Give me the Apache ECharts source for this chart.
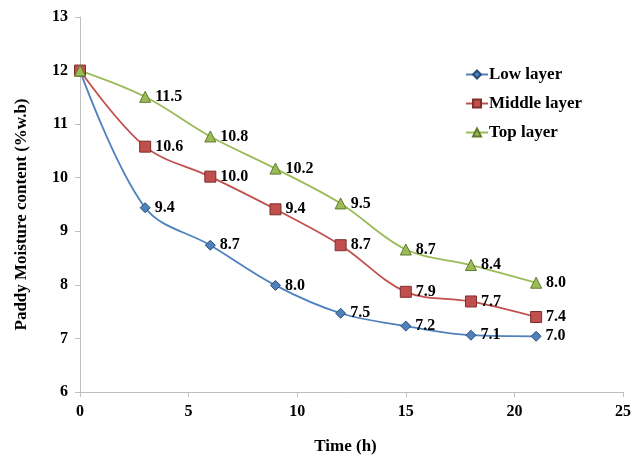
<!DOCTYPE html>
<html><head><meta charset="utf-8">
<script src="https://cdn.jsdelivr.net/npm/echarts@6/dist/echarts.min.js"></script>
<style>html,body{margin:0;padding:0;background:#fff}#c{width:634px;height:460px}</style>
</head><body><div id="c"></div>
<script>
const times = [0, 3, 6, 9, 12, 15, 18, 21];
const lowLayer = [12.0, 9.44, 8.74, 7.99, 7.47, 7.23, 7.06, 7.04];
const middleLayer = [12.0, 10.58, 10.02, 9.41, 8.74, 7.87, 7.69, 7.40];
const topLayer = [12.0, 11.51, 10.77, 10.17, 9.52, 8.66, 8.37, 8.04];
const lowLabels = ["", "9.4", "8.7", "8.0", "7.5", "7.2", "7.1", "7.0"];
const middleLabels = ["", "10.6", "10.0", "9.4", "8.7", "7.9", "7.7", "7.4"];
const topLabels = ["", "11.5", "10.8", "10.2", "9.5", "8.7", "8.4", "8.0"];
const xTicks = [0, 5, 10, 15, 20, 25];
const yTicks = [6, 7, 8, 9, 10, 11, 12, 13];

const font = "'Liberation Serif', 'Times New Roman', serif";
function mk(name, vals, labels, color, border, symbol, size) {
  return {
    name, type: 'line', smooth: 0.35,
    data: vals.map((v, i) => [times[i], v]),
    symbol, symbolSize: size,
    lineStyle: { color, width: 1.8 },
    itemStyle: { color, borderColor: border, borderWidth: 1 },
    label: {
      show: true, position: 'right', distance: 4,
      fontFamily: font, fontWeight: 'bold', fontSize: 16, color: '#000',
      formatter: p => labels[p.dataIndex]
    },
    emphasis: { disabled: true }
  };
}
const chart = echarts.init(document.getElementById('c'));
chart.setOption({
  animation: false,
  grid: { left: 80, right: 9, top: 17, bottom: 67, containLabel: false },
  legend: {
    orient: 'vertical', left: 460, top: 61, itemGap: 12, itemWidth: 22, itemHeight: 10,
    textStyle: { fontFamily: font, fontWeight: 'bold', fontSize: 17, color: '#000', padding: [0, 0, 0, -4] },
    data: ['Low layer', 'Middle layer', 'Top layer']
  },
  xAxis: {
    type: 'value', min: xTicks[0], max: xTicks[xTicks.length - 1], interval: 5,
    name: 'Time (h)', nameLocation: 'middle', nameGap: 46,
    nameTextStyle: { fontFamily: font, fontWeight: 'bold', fontSize: 17, color: '#000', padding: [0, 12, 0, 0] },
    axisLine: { lineStyle: { color: '#bfbfbf' } },
    axisTick: { show: true, length: 5, lineStyle: { color: '#bfbfbf' } },
    axisLabel: { fontFamily: font, fontWeight: 'bold', fontSize: 16, color: '#000', margin: 12 },
    splitLine: { show: false }
  },
  yAxis: {
    type: 'value', min: yTicks[0], max: yTicks[yTicks.length - 1], interval: 1,
    name: 'Paddy Moisture content (%w.b)', nameLocation: 'middle', nameGap: 50,
    nameTextStyle: { fontFamily: font, fontWeight: 'bold', fontSize: 17, color: '#000', padding: [0, 20, 0, 0] },
    axisLine: { show: true, lineStyle: { color: '#bfbfbf' } },
    axisTick: { show: true, length: 5, lineStyle: { color: '#bfbfbf' } },
    axisLabel: { fontFamily: font, fontWeight: 'bold', fontSize: 16, color: '#000', margin: 12 },
    splitLine: { show: false }
  },
  series: [
    mk('Low layer', lowLayer, lowLabels, '#4F81BD', '#2c4d75', 'diamond', 10),
    mk('Middle layer', middleLayer, middleLabels, '#C0504D', '#7f2e2c', 'rect', 11),
    mk('Top layer', topLayer, topLabels, '#9BBB59', '#5f7a2c', 'triangle', 11)
  ]
});
</script></body></html>
